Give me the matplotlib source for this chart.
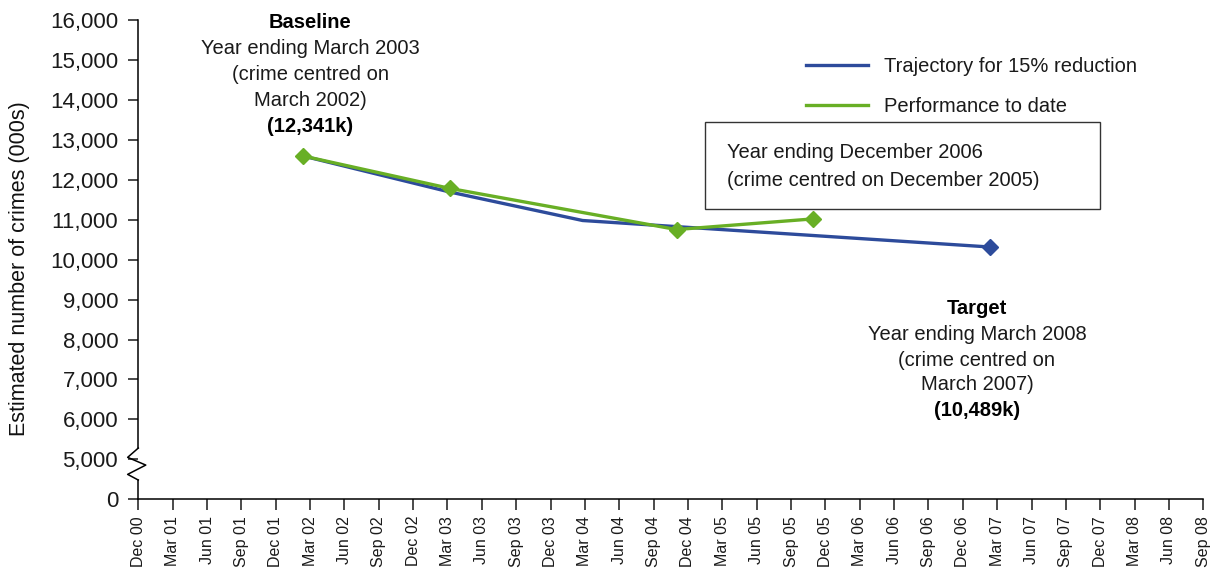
import matplotlib
matplotlib.use("Agg")
import matplotlib.pyplot as plt
from matplotlib.lines import Line2D
from matplotlib.patches import Rectangle
import matplotlib.transforms as mtransforms

plt.rcParams['font.family'] = ['Liberation Sans', 'DejaVu Sans']

# x positions are months after Dec 2000
quarter_labels = ['Dec 00', 'Mar 01', 'Jun 01', 'Sep 01', 'Dec 01', 'Mar 02', 'Jun 02', 'Sep 02',
                  'Dec 02', 'Mar 03', 'Jun 03', 'Sep 03', 'Dec 03', 'Mar 04', 'Jun 04', 'Sep 04',
                  'Dec 04', 'Mar 05', 'Jun 05', 'Sep 05', 'Dec 05', 'Mar 06', 'Jun 06', 'Sep 06',
                  'Dec 06', 'Mar 07', 'Jun 07', 'Sep 07', 'Dec 07', 'Mar 08', 'Jun 08', 'Sep 08']
quarter_pos = [3 * i for i in range(len(quarter_labels))]

# trajectory for 15% reduction (000s)
traj_x = [14.4, 27.1, 38.8, 74.4]
traj_y = [12595, 11700, 10980, 10316]

# performance to date (000s)
perf_x = [14.4, 27.2, 47.0, 58.9]
perf_y = [12595, 11784, 10754, 11020]

ytick_values = [0, 5000, 6000, 7000, 8000, 9000, 10000, 11000, 12000, 13000, 14000, 15000, 16000]
ytick_labels = ['0', '5,000', '6,000', '7,000', '8,000', '9,000', '10,000', '11,000',
                '12,000', '13,000', '14,000', '15,000', '16,000']

blue = '#2D4B9B'
green = '#68AF25'

W, H = 1218, 568
fig = plt.figure(figsize=(W / 100, H / 100), dpi=100)
ax = fig.add_axes([138.3 / W, 1 - 499.3 / H, 1065 / W, 479.3 / H])

ax.plot(traj_x, traj_y, color=blue, lw=2.4, marker='D', ms=8, markevery=[len(traj_x) - 1],
        solid_joinstyle='round', zorder=3)
ax.plot(perf_x, perf_y, color=green, lw=2.4, marker='D', ms=8, solid_joinstyle='round', zorder=4)

ax.set_xlim(0, 93)
ax.set_ylim(4000, 16000)

# broken axis: 0 drawn one step below 5,000
ytick_pos = [v if v >= 5000 else 4000 for v in ytick_values]
ax.set_yticks(ytick_pos)
ax.set_yticklabels(ytick_labels)
ax.set_xticks(quarter_pos)
ax.set_xticklabels(quarter_labels, rotation=90)

for s in ['top', 'right', 'left']:
    ax.spines[s].set_visible(False)
ax.spines['bottom'].set_linewidth(1.1)
ax.tick_params(axis='y', length=7.5, width=1.1, labelsize=16, pad=7, colors='#1a1a1a')
ax.tick_params(axis='x', length=8, width=1.1, labelsize=11.5, pad=4, colors='#1a1a1a')

# left spine with zigzag break
tr = mtransforms.blended_transform_factory(ax.transAxes, ax.transData)
ax.add_line(Line2D([0, 0], [16000, 5283], color='black', lw=1.1, transform=tr, clip_on=False))
ax.add_line(Line2D([0, -0.01, 0.007, -0.01, 0], [5283, 5050, 4857, 4624, 4482],
                   color='black', lw=1.1, transform=tr, clip_on=False))
ax.add_line(Line2D([0, 0], [4482, 4000], color='black', lw=1.1, transform=tr, clip_on=False))

fig.text(20 / W, 1 - 269 / H, 'Estimated number of crimes (000s)', rotation=90,
         ha='center', va='center', fontsize=15.5, color='#111111')

fs = 14.5
def fy(py):
    return 1 - py / H

# baseline annotation
fig.text(310 / W, fy(23), 'Baseline', ha='center', va='center', fontsize=fs, fontweight='bold')
for py, s in [(49, 'Year ending March 2003'), (75, '(crime centred on'), (100, 'March 2002)')]:
    fig.text(310 / W, fy(py), s, ha='center', va='center', fontsize=fs, color='#1a1a1a')
fig.text(310 / W, fy(127), '(12,341k)', ha='center', va='center', fontsize=fs, fontweight='bold')

# target annotation
fig.text(977 / W, fy(308), 'Target', ha='center', va='center', fontsize=fs, fontweight='bold')
for py, s in [(334, 'Year ending March 2008'), (360, '(crime centred on'), (385, 'March 2007)')]:
    fig.text(977 / W, fy(py), s, ha='center', va='center', fontsize=fs, color='#1a1a1a')
fig.text(977 / W, fy(411), '(10,489k)', ha='center', va='center', fontsize=fs, fontweight='bold')

# boxed note
fig.patches.append(Rectangle((705 / W, fy(209.3)), 395 / W, 87.6 / H, transform=fig.transFigure,
                             fill=False, edgecolor='#333333', lw=1.0))
fig.text(727 / W, fy(153), 'Year ending December 2006', ha='left', va='center', fontsize=fs, color='#1a1a1a')
fig.text(727 / W, fy(180), '(crime centred on December 2005)', ha='left', va='center', fontsize=fs, color='#1a1a1a')

handles = [Line2D([], [], color=blue, lw=2.4), Line2D([], [], color=green, lw=2.4)]
leg = fig.legend(handles, ['Trajectory for 15% reduction', 'Performance to date'],
                 loc='upper left', bbox_to_anchor=(806 / W, fy(57)), frameon=False, fontsize=fs,
                 handlelength=3.1, handletextpad=0.75, labelspacing=1.05, borderpad=0, borderaxespad=0)
for t in leg.get_texts():
    t.set_color('#1a1a1a')

fig.savefig('out.png', dpi=100)
